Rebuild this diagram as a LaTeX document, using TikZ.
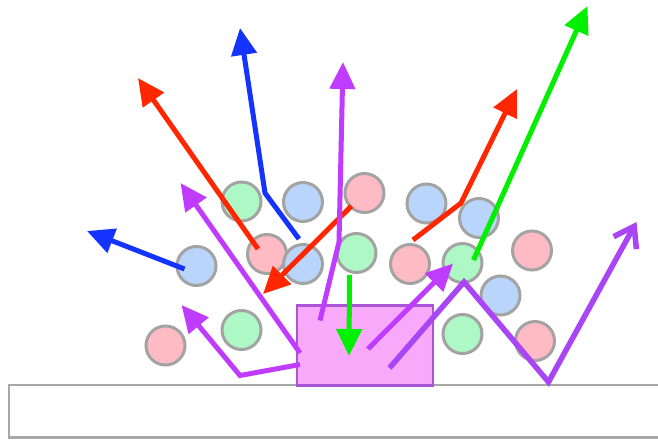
\documentclass[tikz,border=0pt]{standalone}
\usetikzlibrary{arrows.meta}
\definecolor{ballgreen}{HTML}{ADF8C5}
\definecolor{ballblue}{HTML}{B9D5FB}
\definecolor{ballpink}{HTML}{FFBBC3}
\definecolor{ballrim}{HTML}{A3A3A3}
\definecolor{rayred}{HTML}{FF2600}
\definecolor{rayblue}{HTML}{1533FF}
\definecolor{raygreen}{HTML}{00F000}
\definecolor{raypurple}{HTML}{BF3CFF}
\definecolor{zigpurple}{HTML}{A945F5}
\definecolor{boxfill}{HTML}{F9A9FA}
\definecolor{boxrim}{HTML}{A955D8}
\definecolor{floorrim}{HTML}{A8A8A8}
\begin{document}
\begin{tikzpicture}[x=1pt,y=-1pt,
  ball/.style={circle,draw=ballrim,line width=3pt,minimum size=39pt,inner sep=0pt},
  gball/.style={ball,fill=ballgreen},
  bball/.style={ball,fill=ballblue},
  pball/.style={ball,fill=ballpink},
  ray/.style={line width=5pt,line join=miter,-{Triangle[length=27pt,width=25pt]}},
  zig/.style={line width=5.5pt,color=zigpurple,line join=miter,
    -{Straight Barb[length=19pt,width=26pt,line width=5.5pt]}},
]
\useasboundingbox (0,0) rectangle (658,439);

% floor slab
\draw[floorrim,line width=2.5pt] (700,385) -- (9,385) -- (9,437.5) -- (700,437.5);

% particles
\node[gball] (g1) at (241.5,201.5) {};
\node[bball] (b1) at (303,202) {};
\node[pball] (p1) at (364.5,193) {};
\node[bball] (b2) at (426.5,203.5) {};
\node[bball] (b3) at (479,218) {};
\node[bball] (b4) at (196.5,266) {};
\node[pball] (p2) at (267,254) {};
\node[bball] (b5) at (303,264) {};
\node[gball] (g2) at (356.5,253) {};
\node[pball] (p3) at (410,264) {};
\node[gball] (g3) at (462.5,263) {};
\node[pball] (p4) at (532,250.5) {};
\node[bball] (b6) at (500.5,295.5) {};
\node[pball] (p5) at (165.5,345.5) {};
\node[gball] (g4) at (241.5,330) {};
\node[gball] (g5) at (462.5,334) {};
\node[pball] (p6) at (535,341) {};

% target block
\node[draw=boxrim,fill=boxfill,line width=2.5pt,minimum width=136pt,minimum height=80pt,
  inner sep=0pt] (blk) at (365,345.5) {};

% ray end points
\coordinate (bt1) at (87,231);
\coordinate (bt2) at (240,28);
\coordinate (rt1) at (138,78);
\coordinate (rt2) at (263,294);
\coordinate (rt3) at (517,89);
\coordinate (gt1) at (587.5,6);
\coordinate (gt2) at (349,356);
\coordinate (vt1) at (343,62);
\coordinate (vt2) at (180.5,183);
\coordinate (vt3) at (181.5,305);
\coordinate (vt4) at (453,263.5);
\coordinate (zt) at (636.5,222);

% blue rays
\draw[ray,rayblue] ([shift={(-12,3)}]b4.center) -- (bt1);
\draw[ray,rayblue] ([shift={(-4,-25)}]b5.center) -- (265,193) -- (bt2);

% red rays
\draw[ray,rayred] ([shift={(-9,-5)}]p2.center) -- (rt1);
\draw[ray,rayred] ([shift={(-13,13)}]p1.center) -- (rt2);
\draw[ray,rayred] ([shift={(3,-24)}]p3.center) -- (461,203) -- (rt3);

% green rays
\draw[ray,raygreen] ([shift={(11,-3)}]g3.center) -- (gt1);
\draw[ray,raygreen] ([shift={(-7,22)}]g2.center) -- (gt2);

% purple rays leaving the block
\draw[ray,raypurple] ([shift={(-45,-25)}]blk.center) -- (339,242) -- (vt1);
\draw[ray,raypurple] ([shift={(-65,7.5)}]blk.center) -- (vt2);
\draw[ray,raypurple] ([shift={(-65,19)}]blk.center) -- (240,375.5) -- (vt3);
\draw[ray,raypurple] ([shift={(3,3.5)}]blk.center) -- (vt4);

% reflected ray
\draw[zig] ([shift={(24.5,22.5)}]blk.center) -- (464,282) -- (548.5,382) -- (zt);
\end{tikzpicture}
\end{document}
